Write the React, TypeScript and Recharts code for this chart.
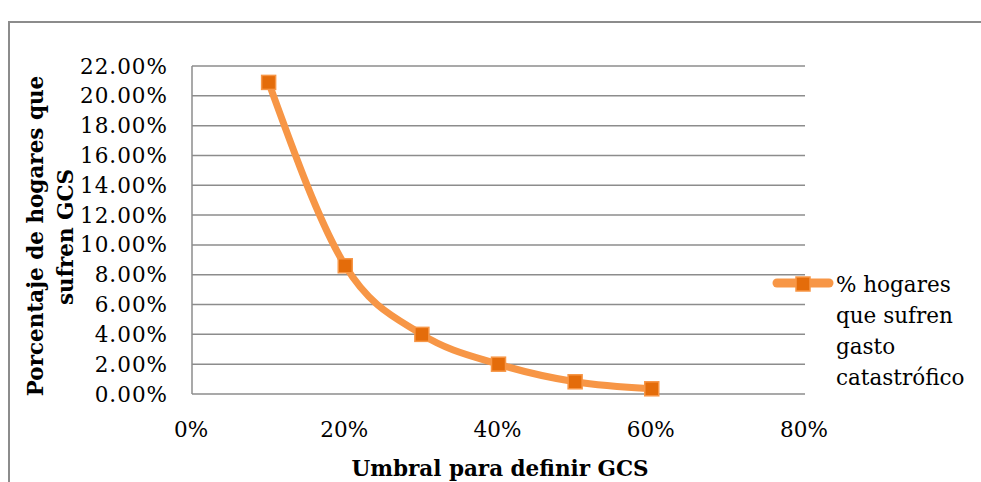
import React from 'react';
import { LineChart, Line, XAxis, YAxis, CartesianGrid } from 'recharts';

// umbral (%) y porcentaje de hogares con gasto catastrófico
const umbrales = [10, 20, 30, 40, 50, 60];
const hogaresGcs = [20.9, 8.6, 4.0, 2.0, 0.82, 0.35];
const xTicks = [0, 20, 40, 60, 80];
const yTicks = [0, 2, 4, 6, 8, 10, 12, 14, 16, 18, 20, 22];
const seriesName = '% hogares que sufren gasto catastrófico';
const legendLines = ['% hogares', 'que sufren', 'gasto', 'catastrófico'];

const data = umbrales.map((u, i) => ({ umbral: u, hogares: hogaresGcs[i] }));

const FONT = '"DejaVu Serif", serif';
const ORANGE = '#F79646';
const ORANGE_DARK = '#E46C0A';
const GRID = '#8c8c8c';

const YTick = (props: any) => (
    <text x={168} y={props.y + 7.5} textAnchor="end" fontFamily={FONT} fontSize={21.5} letterSpacing={1} fill="#000">
        {props.payload.value.toFixed(2)}%
    </text>
);

const XTick = (props: any) => (
    <text x={props.x - 1} y={437} textAnchor="middle" fontFamily={FONT} fontSize={21.5} fill="#000">
        {props.payload.value}%
    </text>
);

const SquareDot = (props: any) => {
    const { cx, cy } = props;
    if (cx == null || cy == null) return null;
    return (
        <rect x={cx - 7} y={cy - 7} width={14} height={14} fill={ORANGE_DARK} stroke={ORANGE} strokeWidth={1.5} />
    );
};

// leyenda dibujada aparte para no quitarle alto al área del gráfico
const LegendBox = () => (
    <svg width={221} height={150} style={{ position: 'absolute', left: 760, top: 250 }}>
        <line x1={17} y1={33} x2={69} y2={33} stroke={ORANGE} strokeWidth={9} strokeLinecap="round" />
        <rect x={36} y={27} width={14} height={14} fill={ORANGE_DARK} stroke={ORANGE} strokeWidth={1.5} />
        {legendLines.map((t, i) => (
            <text key={t} x={76} y={42 + i * 31} fontFamily={FONT} fontSize={21.5} fill="#000">
                {t}
            </text>
        ))}
        <title>{seriesName}</title>
    </svg>
);

const YTitle = () => (
    <g fontFamily={FONT} fontSize={21.5} fontWeight="bold" fill="#000">
        <text x={43} y={236} textAnchor="middle" transform="rotate(-90, 43, 236)">Porcentaje de hogares que</text>
        <text x={73} y={237} textAnchor="middle" transform="rotate(-90, 73, 237)">sufren GCS</text>
    </g>
);

const XTitle = () => (
    <text x={500} y={476} textAnchor="middle" fontFamily={FONT} fontSize={21.5} fontWeight="bold" fill="#000">
        Umbral para definir GCS
    </text>
);

export default function App() {
    return (
        <div style={{ position: 'absolute', left: 0, top: 0, width: 981, height: 482, overflow: 'hidden', background: '#fff' }}>
            <div style={{ position: 'absolute', left: 8, top: 21, width: 1100, height: 600, border: `2px solid ${GRID}` }} />
            <div style={{ position: 'absolute', left: 0, top: 0 }}>
                <LineChart width={981} height={482} data={data} margin={{ top: 66, right: 176, bottom: 58, left: 0 }}>
                    <CartesianGrid vertical={false} stroke={GRID} strokeWidth={1.5} />
                    <XAxis
                        type="number"
                        dataKey="umbral"
                        domain={[0, 80]}
                        ticks={xTicks}
                        height={30}
                        interval={0}
                        axisLine={false}
                        tickLine={false}
                        tick={<XTick />}
                        label={{ content: () => <XTitle /> }}
                    />
                    <YAxis
                        type="number"
                        domain={[0, 22]}
                        ticks={yTicks}
                        interval={0}
                        width={192}
                        axisLine={{ stroke: GRID, strokeWidth: 1.5 }}
                        tickLine={false}
                        tick={<YTick />}
                        label={{ content: () => <YTitle /> }}
                    />
                    <Line
                        type="monotone"
                        dataKey="hogares"
                        name={seriesName}
                        stroke={ORANGE}
                        strokeWidth={7}
                        dot={<SquareDot />}
                        activeDot={false}
                        isAnimationActive={false}
                    />
                </LineChart>
            </div>
            <LegendBox />
        </div>
    );
}
